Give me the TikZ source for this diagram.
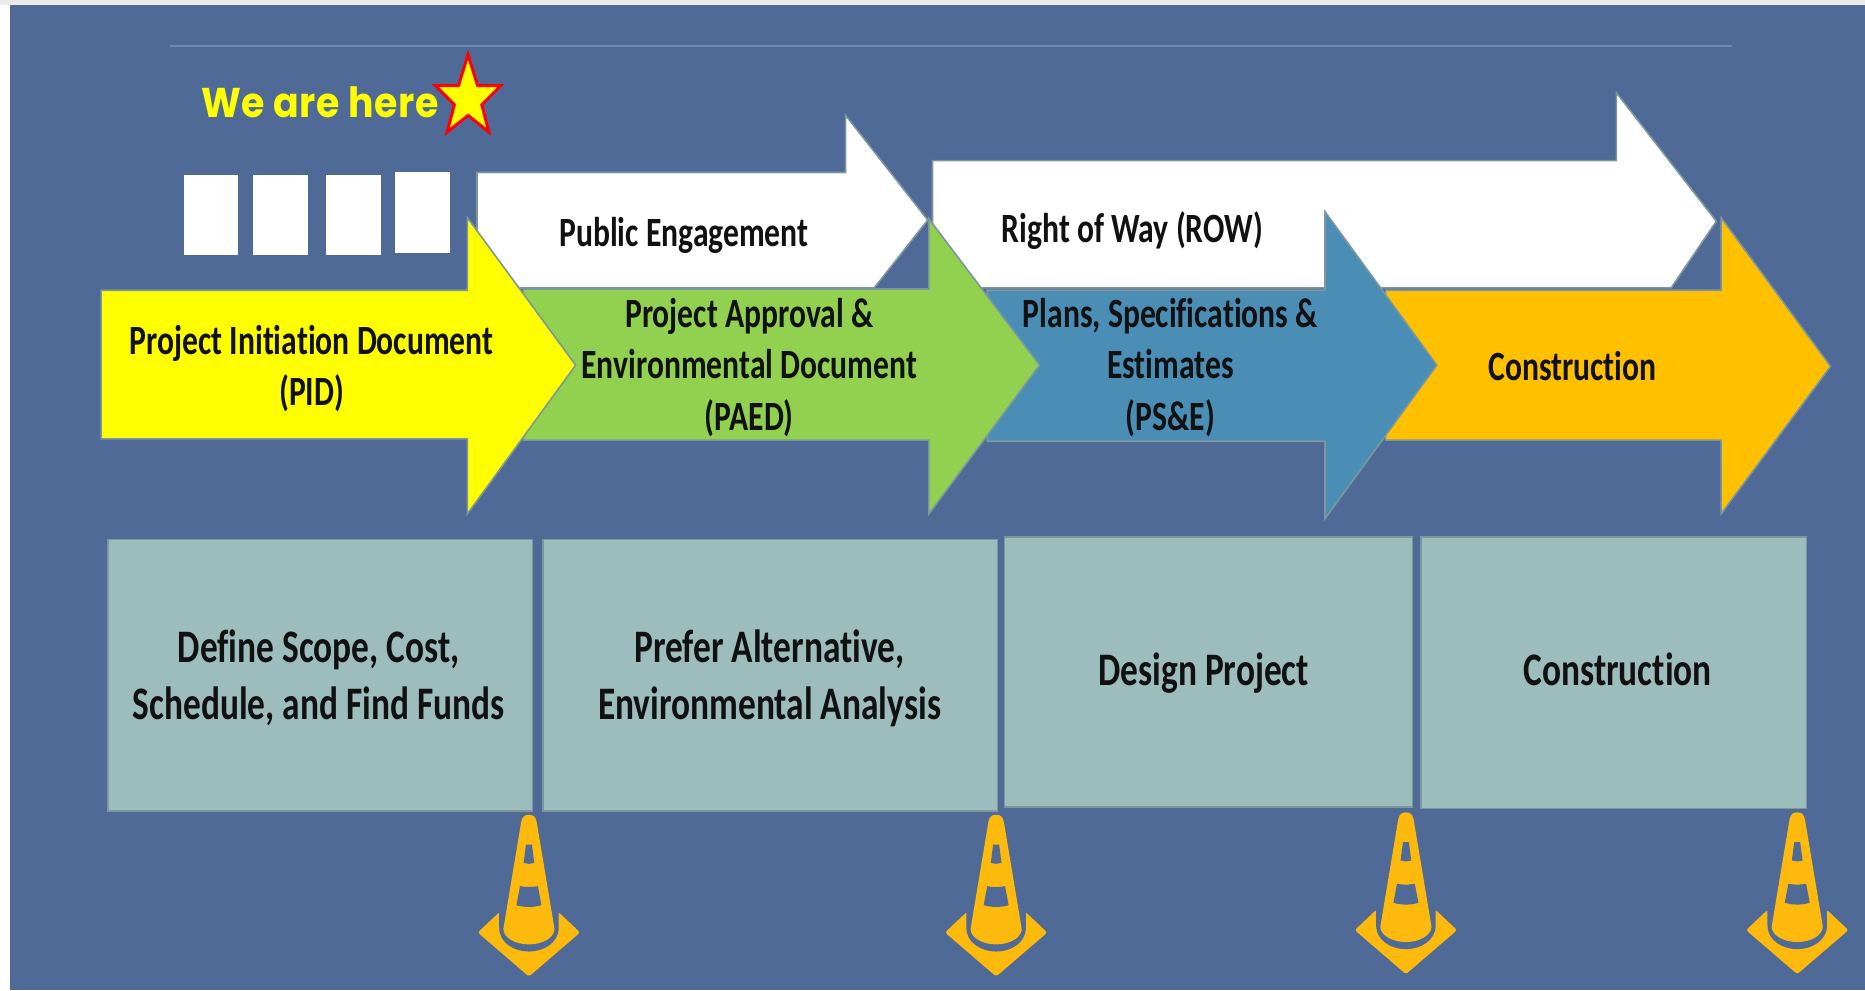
\documentclass[tikz,border=0pt]{standalone}
\usepackage{fontspec}
\setmainfont{Carlito}
\newfontfamily\labfont[FakeStretch=0.76,Ligatures=NoCommon]{Carlito}
\newfontfamily\herefont[FakeStretch=0.91,LetterSpace=1.2]{Poppins}
\definecolor{bgblue}{HTML}{4F6A97}
\definecolor{rulec}{HTML}{7189AC}
\definecolor{edgec}{HTML}{7C979E}
\definecolor{ayellow}{HTML}{FFFF00}
\definecolor{agreen}{HTML}{92D050}
\definecolor{ablue}{HTML}{4A8DB5}
\definecolor{aorange}{HTML}{FFC000}
\definecolor{boxc}{HTML}{9DBDBC}
\definecolor{conec}{HTML}{FDBA0C}
\definecolor{inkc}{HTML}{111111}
\tikzset{
  arrowshape/.style={draw=edgec,line width=0.8pt,line join=miter},
  whitesq/.style={fill=white},
  phasebox/.style={draw=edgec,line width=0.8pt,fill=boxc},
  arrowtext/.style={font=\labfont\bfseries\fontsize{21}{26}\selectfont,text=inkc,align=center,inner sep=0pt},
  boxtext/.style={font=\labfont\bfseries\fontsize{23.5}{28.8}\selectfont,text=inkc,align=center,inner sep=0pt},
  trafficcone/.pic={
    \fill[conec,rounded corners=1.2pt] (-43,99) -- (-25,82) -- (25,82) -- (43,99) -- (0,136) -- cycle;
    \fill[bgblue] (-25,76) -- (-25,95) .. controls (-25,108) and (-12,115) .. (0,115) .. controls (12,115) and (25,108) .. (25,95) -- (25,76) -- cycle;
    \fill[conec] (-6.5,6) .. controls (-5.5,1) and (-3,0) .. (0,0) .. controls (3,0) and (5.5,1) .. (6.5,6) -- (21.5,96) .. controls (21.5,103) and (12,109) .. (0,109) .. controls (-12,109) and (-21.5,103) .. (-21.5,96) -- cycle;
    \fill[bgblue] (-2.5,25) -- (2.5,25) -- (4.5,40.5) .. controls (1.5,41.5) and (-1.5,41.5) .. (-4.5,40.5) -- cycle;
    \fill[bgblue] (-7.5,60) .. controls (-3,61) and (3,61) .. (7.5,60) -- (10.5,76) .. controls (4,78) and (-4,78) .. (-10.5,76) -- cycle;
  }
}
\begin{document}
\begin{tikzpicture}[x=0.6pt,y=-0.6pt]
\useasboundingbox (0,0) rectangle (1568,832.4);
\fill[white] (0,0) rectangle (1568,832.4);
\fill[black!8] (0,0) rectangle (1568,4);
\fill[bgblue] (8,4) rectangle (1568,832.4);
\draw[rulec,line width=0.9pt] (143,39) -- (1456,39);

% We are here
\node[font=\herefont\bfseries\fontsize{21}{25}\selectfont,text=ayellow,inner sep=0pt] (here) at (269,86) {We are here};
\filldraw[fill=ayellow,draw=red,line width=1.5pt,miter limit=10] (393.5,46) -- (401.5,72) -- (421,72) -- (405,88) -- (411,111) -- (393.5,97) -- (376,111) -- (382,88) -- (366,72) -- (385.5,72) -- cycle;

% white squares
\fill[whitesq] (155,147) rectangle (200,214);
\fill[whitesq] (213,147) rectangle (259,214);
\fill[whitesq] (274,147) rectangle (320,214);
\fill[whitesq] (332,145) rectangle (378,213);

% white arrows
\filldraw[arrowshape,fill=white] (401,145) -- (711,145) -- (711,97) -- (780,185) -- (735,242) -- (401,242) -- cycle;
\filldraw[arrowshape,fill=white] (784,135) -- (1359,135) -- (1359,78) -- (1443,186) -- (1405,242) -- (784,242) -- cycle;

% phase arrows
\filldraw[arrowshape,fill=aorange] (1165,244) -- (1447,244) -- (1447,183) -- (1539,308) -- (1447,432) -- (1447,370) -- (1165,370) -- cycle;
\filldraw[arrowshape,fill=ablue] (830,244) -- (1114,244) -- (1114,178) -- (1208,307) -- (1114,436) -- (1114,371) -- (830,371) -- cycle;
\filldraw[arrowshape,fill=agreen] (440,243) -- (781,243) -- (781,184) -- (874,307) -- (781,432) -- (781,370) -- (440,370) -- cycle;
\filldraw[arrowshape,fill=ayellow] (85,244) -- (393,244) -- (393,183) -- (484,307) -- (393,432) -- (393,369) -- (85,369) -- cycle;

\node[arrowtext] (pe) at (575,198) {Public Engagement};
\node[arrowtext] (row) at (952,194) {Right of Way (ROW)};
\node[arrowtext] (pid) at (262,310) {Project Initiation Document\\(PID)};
\node[arrowtext] (paed) at (630,309) {Project Approval \&\\Environmental Document\\(PAED)};
\node[arrowtext] (pse) at (984,309) {Plans, Specifications \&\\Estimates\\(PS\&E)};
\node[arrowtext] (con) at (1322,308) {Construction};

% boxes
\node[phasebox,minimum width=214.2pt,minimum height=136.8pt,inner sep=0pt,anchor=north west] (b1) at (90,453) {};
\node[phasebox,minimum width=229.2pt,minimum height=136.8pt,inner sep=0pt,anchor=north west] (b2) at (456,453) {};
\node[phasebox,minimum width=205.8pt,minimum height=136.2pt,inner sep=0pt,anchor=north west] (b3) at (844,451) {};
\node[phasebox,minimum width=194.4pt,minimum height=136.8pt,inner sep=0pt,anchor=north west] (b4) at (1194,451) {};
\node[boxtext] (t1) at (268,570) {Define Scope, Cost,\\Schedule, and Find Funds};
\node[boxtext] (t2) at (647,570) {Prefer Alternative,\\Environmental Analysis};
\node[boxtext] (t3) at (1012,566) {Design Project};
\node[boxtext] (t4) at (1360,563) {Construction};

% cones
\pic at (444.7,685) {trafficcone};
\pic at (837.5,685) {trafficcone};
\pic at (1182,683) {trafficcone};
\pic at (1511,683) {trafficcone};
\end{tikzpicture}
\end{document}
